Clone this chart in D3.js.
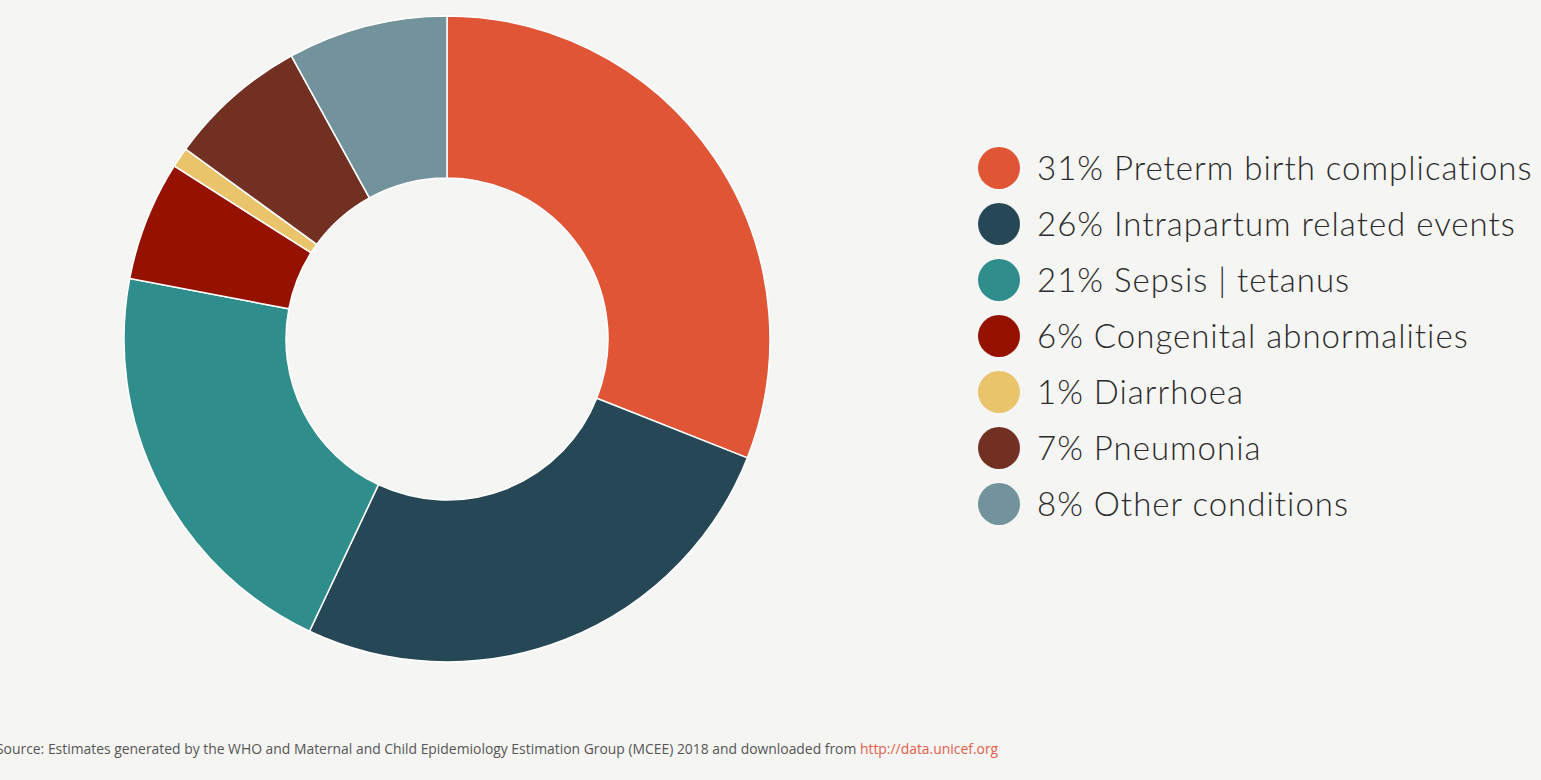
<!DOCTYPE html>
<html><head><meta charset="utf-8">
<script src="https://cdn.jsdelivr.net/npm/d3@7"></script>
<style>
html,body{margin:0;padding:0;background:#f5f5f3;overflow:hidden;}
svg{display:block;}
</style></head>
<body>
<svg id="chart" width="1541" height="780"></svg>
<script>
const categories = ["Preterm birth complications","Intrapartum related events","Sepsis | tetanus","Congenital abnormalities","Diarrhoea","Pneumonia","Other conditions"];
const values = [31,26,21,6,1,7,8];
const colors = ["#e05535","#264755","#2f8d8b","#951200","#e9c46b","#723022","#72939c"];
const sourceText = "Source: Estimates generated by the WHO and Maternal and Child Epidemiology Estimation Group (MCEE) 2018 and downloaded from ";
const sourceLink = "http://data.unicef.org";

const svg = d3.select("#chart");
svg.append("rect").attr("width",1541).attr("height",780).attr("fill","#f5f5f3");

const data = categories.map((c,i)=>({name:c,value:values[i],color:colors[i]}));
const pie = d3.pie().value(d=>d.value).sort(null);
const arc = d3.arc().innerRadius(161).outerRadius(323);

const g = svg.append("g").attr("transform","translate(447,339)");
g.selectAll("path").data(pie(data)).join("path")
  .attr("d",arc).attr("fill",d=>d.data.color)
  .attr("stroke","#ffffff").attr("stroke-width",1.5);

const y = d3.scalePoint().domain(categories).range([168,504]);
const leg = svg.append("g");
const items = leg.selectAll("g").data(data).join("g")
  .attr("transform",d=>`translate(0,${y(d.name)})`);
items.append("circle").attr("cx",999).attr("cy",0).attr("r",21).attr("fill",d=>d.color);
items.append("text").attr("x",1037).attr("y",0).attr("dy","0.35em")
  .attr("font-family","Lato, sans-serif").attr("font-weight",300)
  .attr("font-size",33).attr("letter-spacing",1).attr("fill","#2b2b2b")
  .text(d=>`${d.value}% ${d.name}`);

const src = svg.append("text").attr("x",-4).attr("y",754)
  .attr("font-family","'Open Sans', sans-serif").attr("font-size",13.9).attr("fill","#555");
src.append("tspan").text(sourceText);
src.append("tspan").attr("fill","#e0604a").text(sourceLink);
</script>
</body></html>
